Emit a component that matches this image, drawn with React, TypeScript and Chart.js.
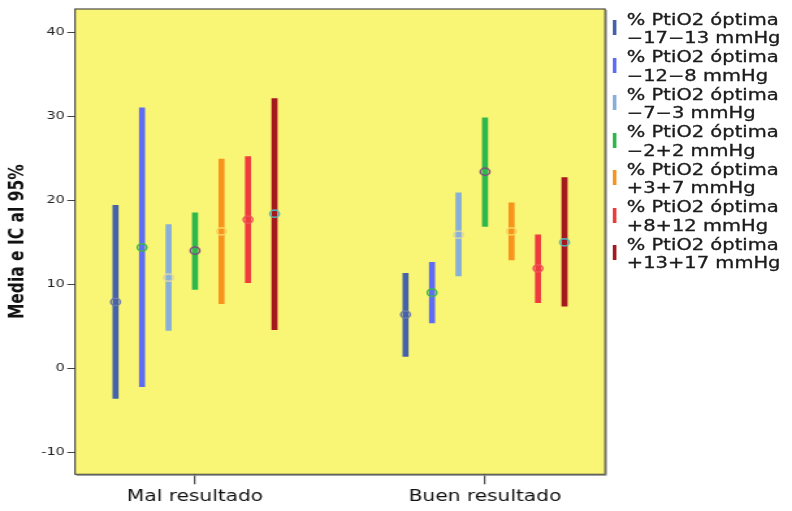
import { useEffect, useRef } from 'react';
import { Chart, registerables } from 'chart.js';

Chart.register(...registerables);

// Groups on the horizontal axis
const categories = ['Mal resultado', 'Buen resultado'];

// Series: % of time near optimal PtiO2, by offset band
const seriesPrefix = '% PtiO2 óptima';
const seriesBands = [
  '−17−13 mmHg',
  '−12−8 mmHg',
  '−7−3 mmHg',
  '−2+2 mmHg',
  '+3+7 mmHg',
  '+8+12 mmHg',
  '+13+17 mmHg',
];

// Mean and 95% CI per series, "Mal resultado"
const meanMal = [7.9, 14.4, 10.8, 14.0, 16.3, 17.7, 18.4];
const lowMal = [-3.6, -2.2, 4.5, 9.4, 7.7, 10.2, 4.6];
const highMal = [19.4, 31.0, 17.1, 18.5, 24.9, 25.2, 32.1];

// Mean and 95% CI per series, "Buen resultado"
const meanBuen = [6.4, 9.0, 15.9, 23.4, 16.3, 11.9, 15.0];
const lowBuen = [1.4, 5.4, 11.0, 16.9, 12.9, 7.8, 7.4];
const highBuen = [11.3, 12.6, 20.9, 29.8, 19.7, 15.9, 22.7];

const yTicks = [-10, 0, 10, 20, 30, 40];

// Styling
const barColors = ['#4461A9', '#5F6CF6', '#86AFDA', '#2DB84B', '#F7941D', '#EE3B3C', '#A3191D'];
const markerColors = ['#6B78A8', '#3DB54A', '#DCD6A4', '#7D4E80', '#FAD35E', '#F0505A', '#4FB8C6'];
const PLOT_BG = '#FAF675';
const FONT = 'DejaVu Sans';

// Layout (canvas drawn narrow, then widened horizontally)
const CANVAS_W = 609;
const CANVAS_H = 511;
const STRETCH = 792 / CANVAS_W;
const groupCenters = [22.64, 77.36];
const seriesStep = 5;

const xOf = (groupIdx: number, seriesIdx: number) =>
  groupCenters[groupIdx] + (seriesIdx - 3) * seriesStep;

const framePlugin = {
  id: 'plotFrame',
  beforeDraw(chart: any) {
    const { ctx, chartArea: a } = chart;
    ctx.save();
    ctx.fillStyle = PLOT_BG;
    ctx.fillRect(a.left, a.top, a.right - a.left, a.bottom - a.top);
    ctx.restore();
  },
  afterDatasetsDraw(chart: any) {
    const { ctx, chartArea: a } = chart;
    ctx.save();
    ctx.strokeStyle = '#3c3c3c';
    ctx.lineWidth = 1.1;
    ctx.strokeRect(a.left, a.top, a.right - a.left, a.bottom - a.top);
    ctx.strokeStyle = '#8a8a8a';
    ctx.lineWidth = 1;
    ctx.beginPath();
    ctx.moveTo(a.right + 1, a.top + 1);
    ctx.lineTo(a.right + 1, a.bottom + 1);
    ctx.lineTo(a.left + 1, a.bottom + 1);
    ctx.stroke();
    ctx.restore();
  },
};

export default function App() {
  const canvasRef = useRef<HTMLCanvasElement>(null);

  useEffect(() => {
    const canvas = canvasRef.current;
    if (!canvas) return;

    const barSets = seriesBands.map((band, s) => ({
      type: 'bar' as const,
      label: `${seriesPrefix} ${band}`,
      data: [
        { x: xOf(0, s), y: [lowMal[s], highMal[s]] },
        { x: xOf(1, s), y: [lowBuen[s], highBuen[s]] },
      ],
      backgroundColor: barColors[s],
      borderWidth: 0,
      barThickness: 4,
      grouped: false,
      order: 1,
    }));

    const meanSets = seriesBands.map((band, s) => ({
      type: 'scatter' as const,
      label: `${seriesPrefix} ${band} (media)`,
      data: [
        { x: xOf(0, s), y: meanMal[s] },
        { x: xOf(1, s), y: meanBuen[s] },
      ],
      pointStyle: 'circle',
      pointRadius: 3.6,
      pointBorderWidth: 1.5,
      pointBorderColor: markerColors[s],
      pointBackgroundColor: 'rgba(0,0,0,0)',
      order: 0,
    }));

    const chart = new Chart(canvas, {
      type: 'bar',
      data: { datasets: [...barSets, ...meanSets] as any },
      options: {
        responsive: false,
        animation: false,
        devicePixelRatio: 1,
        layout: { padding: { left: 0, top: 9, right: CANVAS_W - 465.2, bottom: 0 } },
        plugins: {
          legend: { display: false },
          tooltip: { enabled: false },
        },
        scales: {
          x: {
            type: 'linear',
            min: 0,
            max: 100,
            offset: false,
            border: { display: false },
            grid: { drawOnChartArea: false, offset: false, tickLength: 10, color: '#555', lineWidth: 1.3 },
            afterBuildTicks: (scale: any) => {
              scale.ticks = groupCenters.map((v) => ({ value: v }));
            },
            afterFit: (scale: any) => {
              scale.height = CANVAS_H - 474.3;
            },
            ticks: {
              autoSkip: false,
              maxRotation: 0,
              padding: 3,
              color: '#111',
              font: { family: FONT, size: 15.5 },
              callback: (_v: any, i: number) => categories[i],
            },
          },
          y: {
            type: 'linear',
            min: -12.62,
            max: 42.77,
            border: { display: false },
            grid: { drawOnChartArea: false, tickLength: 6, color: '#444', lineWidth: 1 },
            afterBuildTicks: (scale: any) => {
              scale.ticks = yTicks.map((v) => ({ value: v }));
            },
            afterFit: (scale: any) => {
              scale.width = 57.7;
            },
            ticks: {
              padding: 2,
              color: '#222',
              font: { family: FONT, size: 11 },
              callback: (v: any) => String(v),
            },
            title: {
              display: true,
              text: 'Media e IC al 95%',
              color: '#111',
              font: { family: FONT, size: 15.5, weight: 'bold' },
              padding: { top: 4.8, bottom: 0 },
            },
          },
        },
      },
      plugins: [framePlugin],
    });

    return () => chart.destroy();
  }, []);

  return (
    <div
      style={{
        position: 'absolute',
        left: 0,
        top: 0,
        width: CANVAS_W,
        height: CANVAS_H,
        transform: `scaleX(${STRETCH})`,
        transformOrigin: '0 0',
        background: '#fff',
      }}
    >
      <canvas
        ref={canvasRef}
        width={CANVAS_W}
        height={CANVAS_H}
        style={{ position: 'absolute', left: 0, top: 0, width: CANVAS_W, height: CANVAS_H }}
      />
      <div style={{ position: 'absolute', left: 470.5, top: 10.5 }}>
        {seriesBands.map((band, s) => (
          <div key={band} style={{ position: 'relative', height: 37.5 }}>
            <div
              style={{
                position: 'absolute',
                left: 0,
                top: 9.5,
                width: 3,
                height: 15,
                background: barColors[s],
              }}
            />
            <div
              style={{
                position: 'absolute',
                left: 11.5,
                top: 0,
                fontFamily: FONT,
                fontSize: 15,
                lineHeight: '18.75px',
                color: '#1b1b1b',
                whiteSpace: 'nowrap',
                WebkitTextStroke: '0.3px #1b1b1b',
              }}
            >
              <div>{seriesPrefix}</div>
              <div>{band}</div>
            </div>
          </div>
        ))}
      </div>
    </div>
  );
}
